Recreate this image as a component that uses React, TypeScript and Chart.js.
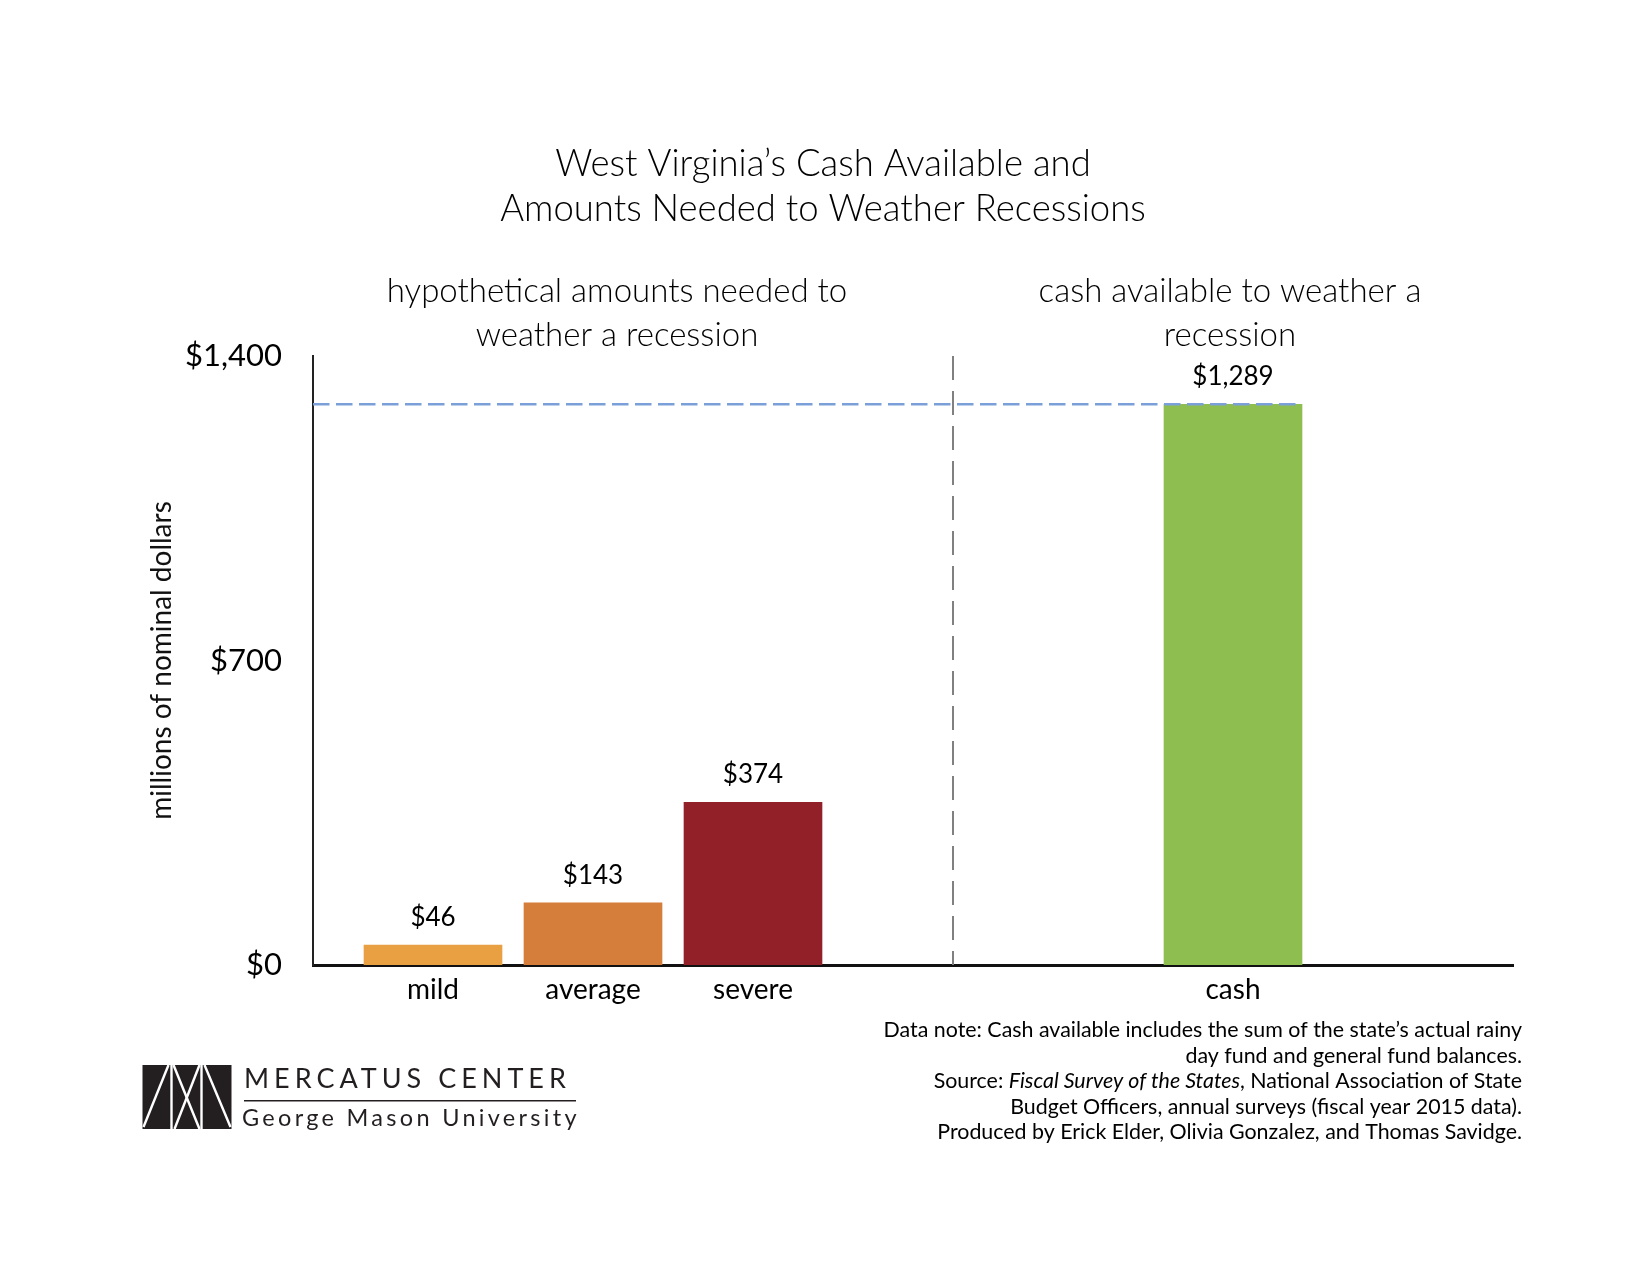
import React, { useEffect, useRef } from 'react';
import { Chart, registerables } from 'chart.js';

Chart.register(...registerables);

// ---- data ----
const categories = ['mild', 'average', 'severe', '', '', 'cash'];
const values: (number | null)[] = [46, 143, 374, null, null, 1289];
const barColors = ['#E9A043', '#D57D3A', '#922028', '', '', '#8EBE50'];
const yTicks = [0, 700, 1400];
const dividerAt = 3.25;
const titleLines = ['West Virginia\u2019s Cash Available and', 'Amounts Needed to Weather Recessions'];
const leftHeader = ['hypothetical amounts needed to', 'weather a recession'];
const rightHeader = ['cash available to weather a', 'recession'];
const yAxisTitle = 'millions of nominal dollars';
const noteLines: { text: string; italic?: boolean }[][] = [
  [{ text: 'Data note: Cash available includes the sum of the state\u2019s actual rainy' }],
  [{ text: 'day fund and general fund balances.' }],
  [
    { text: 'Source: ' },
    { text: 'Fiscal Survey of the States', italic: true },
    { text: ', National Association of State' },
  ],
  [{ text: 'Budget Officers, annual surveys (fiscal year 2015 data).' }],
  [{ text: 'Produced by Erick Elder, Olivia Gonzalez, and Thomas Savidge.' }],
];
const logoTop = 'MERCATUS CENTER';
const logoBottom = 'George Mason University';

const FONT = 'Lato, "Open Sans", sans-serif';
const fmt = (v: number) => '$' + v.toLocaleString('en-US');

const points = categories
  .map((c, i) => (values[i] == null ? null : { x: i, y: values[i] as number, c: barColors[i] }))
  .filter(Boolean) as { x: number; y: number; c: string }[];

const setLS = (ctx: any, v: string) => {
  try {
    ctx.letterSpacing = v;
  } catch (e) {}
};

const overlay = {
  id: 'overlay',
  afterDatasetsDraw(chart: any) {
    const { ctx, chartArea, scales } = chart;
    const xs = scales.x;
    const ys = scales.y;
    const meta = chart.getDatasetMeta(0);
    ctx.save();

    // horizontal dashed reference at cash level
    const cashIdx = points.length - 1;
    const cashBar = meta.data[cashIdx];
    const yCash = ys.getPixelForValue(points[cashIdx].y);
    ctx.strokeStyle = '#7B9FD8';
    ctx.lineWidth = 2.6;
    ctx.setLineDash([16.5, 6.5]);
    ctx.beginPath();
    ctx.moveTo(chartArea.left, yCash);
    ctx.lineTo(cashBar.x + cashBar.width / 2, yCash);
    ctx.stroke();

    // vertical divider
    const xd = xs.getPixelForValue(dividerAt);
    ctx.strokeStyle = '#808080';
    ctx.lineWidth = 2;
    ctx.setLineDash([24, 11]);
    ctx.beginPath();
    ctx.moveTo(xd, chartArea.top);
    ctx.lineTo(xd, chartArea.bottom);
    ctx.stroke();
    ctx.setLineDash([]);

    // value labels
    ctx.fillStyle = '#000';
    ctx.textAlign = 'center';
    ctx.textBaseline = 'alphabetic';
    ctx.font = `400 26px ${FONT}`;
    meta.data.forEach((bar: any, i: number) => {
      ctx.fillText(fmt(points[i].y), bar.x, bar.y - 19);
    });

    // title
    ctx.font = `300 36.5px ${FONT}`;
    ctx.fillText(titleLines[0], 823, 176);
    ctx.fillText(titleLines[1], 823, 221);

    // headers
    ctx.font = `300 33px ${FONT}`;
    ctx.fillText(leftHeader[0], 617, 302);
    ctx.fillText(leftHeader[1], 617, 346);
    const xc = xs.getPixelForValue(points[cashIdx].x) - 3;
    ctx.fillText(rightHeader[0], xc, 302);
    ctx.fillText(rightHeader[1], xc, 346);

    // notes (right aligned)
    const right = 1522;
    const baselines = [1037, 1063, 1088, 1114, 1139];
    const nf = 21.4;
    ctx.textAlign = 'left';
    noteLines.forEach((segs, li) => {
      let total = 0;
      const widths = segs.map((s) => {
        ctx.font = `${s.italic ? 'italic ' : ''}400 ${nf}px ${FONT}`;
        const w = ctx.measureText(s.text).width;
        total += w;
        return w;
      });
      let x = right - total;
      segs.forEach((s, si) => {
        ctx.font = `${s.italic ? 'italic ' : ''}400 ${nf}px ${FONT}`;
        ctx.fillText(s.text, x, baselines[li]);
        x += widths[si];
      });
    });

    // logo mark
    const lx = 142.5, ly = 1065, lw = 89, lh = 64;
    ctx.fillStyle = '#231F20';
    ctx.fillRect(lx, ly, lw, lh);
    ctx.strokeStyle = '#fff';
    ctx.lineWidth = 2.4;
    const seg = (x1: number, y1: number, x2: number, y2: number) => {
      ctx.beginPath();
      ctx.moveTo(lx + x1, ly + y1);
      ctx.lineTo(lx + x2, ly + y2);
      ctx.stroke();
    };
    seg(29, 0, 29, lh);
    seg(59, 0, 59, lh);
    seg(1, 62, 26, 0);
    seg(31, 0, 57, lh);
    seg(32, lh, 57, 0);
    seg(62, 0, 88, 62);
    // logo text
    ctx.fillStyle = '#231F20';
    ctx.font = `400 27px ${FONT}`;
    setLS(ctx, '5px');
    ctx.fillText(logoTop, 244, 1088);
    setLS(ctx, '0px');
    ctx.fillRect(244, 1100, 332, 1.5);
    ctx.font = `400 23.5px ${FONT}`;
    setLS(ctx, '3.3px');
    ctx.fillText(logoBottom, 242, 1126);
    setLS(ctx, '0px');

    ctx.restore();
  },
};

export default function App() {
  const ref = useRef<HTMLCanvasElement | null>(null);
  useEffect(() => {
    if (!ref.current) return;
    const chart = new Chart(ref.current, {
      type: 'bar',
      data: {
        datasets: [
          {
            data: points.map((p) => ({ x: p.x, y: p.y })),
            backgroundColor: points.map((p) => p.c),
            borderWidth: 0,
            barThickness: 138,
          } as any,
        ],
      },
      options: {
        responsive: false,
        animation: false,
        devicePixelRatio: 1,
        layout: { padding: { left: 113, top: 356, right: 137, bottom: 249 } },
        plugins: { legend: { display: false }, tooltip: { enabled: false }, title: { display: false } },
        scales: {
          x: {
            type: 'linear',
            min: -0.75,
            max: 6.75,
            offset: false,
            bounds: 'data',
            grid: { display: false, drawTicks: false, offset: false },
            border: { display: true, color: '#111', width: 3 },
            afterBuildTicks: (s: any) => {
              s.ticks = points.map((p) => ({ value: p.x }));
            },
            afterFit: (s: any) => {
              s.height = 61;
            },
            ticks: {
              autoSkip: false,
              maxRotation: 0,
              padding: 8,
              color: '#000',
              font: { family: FONT, size: 28 },
              callback: (v: any) => categories[v] ?? '',
            },
          },
          y: {
            min: 0,
            max: 1400,
            grid: { display: false, drawTicks: false },
            border: { display: true, color: '#222', width: 2 },
            afterBuildTicks: (s: any) => {
              s.ticks = yTicks.map((v) => ({ value: v }));
            },
            afterFit: (s: any) => {
              s.width = 200;
            },
            ticks: {
              padding: 31,
              color: '#000',
              font: { family: FONT, size: 31 },
              callback: (v: any) => fmt(Number(v)),
            },
            title: {
              display: true,
              text: yAxisTitle,
              color: '#111',
              font: { family: FONT, size: 28 },
              padding: { top: 32, bottom: 0 },
            },
          },
        },
      } as any,
      plugins: [overlay],
    });
    return () => chart.destroy();
  }, []);
  return (
    <div style={{ position: 'absolute', left: 0, top: 0, width: 1650, height: 1275, background: '#fff' }}>
      <canvas ref={ref} width={1650} height={1275} style={{ display: 'block' }} />
    </div>
  );
}
